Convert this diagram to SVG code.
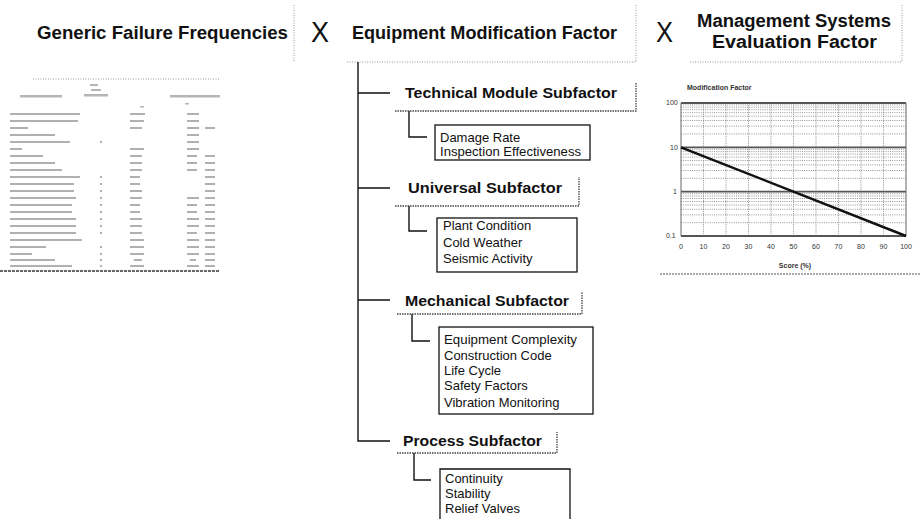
<svg xmlns="http://www.w3.org/2000/svg" width="920" height="519" viewBox="0 0 920 519">
<style>
.h{font-family:"Liberation Sans",Arial,sans-serif;font-weight:bold;font-size:18px;fill:#111}
.x{font-family:"Liberation Sans",Arial,sans-serif;font-size:29px;fill:#111}
.s{font-family:"Liberation Sans",Arial,sans-serif;font-weight:bold;font-size:14px;fill:#111}
.l{font-family:"Liberation Sans",Arial,sans-serif;font-size:13px;fill:#111}
.sh{fill:none;stroke:#444;stroke-width:1.3;stroke-dasharray:1.5 1}
.dot{fill:none;stroke:#999;stroke-width:1;stroke-dasharray:1 1.5}
.c{fill:none;stroke:#111;stroke-width:1.4}
.box{fill:#fff;stroke:#111;stroke-width:1.3}
.tb{fill:#b5b5b5}
.ct{font-family:"Liberation Sans",Arial,sans-serif;font-size:7px;fill:#333}
.g{stroke:#888;stroke-width:0.9;stroke-dasharray:1 1.2}
.gd{stroke:#555;stroke-width:1.8}
</style>

<!-- header titles -->
<g id="generic-failure-frequencies">
<text class="h" x="37" y="39" textLength="251" lengthAdjust="spacingAndGlyphs">Generic Failure Frequencies</text>
<path class="dot" d="M294 5V62"/>
</g>
<g id="times1"><text class="x" x="311" y="42" textLength="18" lengthAdjust="spacingAndGlyphs">X</text></g>
<g id="equipment-modification-factor">
<text class="h" x="352" y="39" textLength="265" lengthAdjust="spacingAndGlyphs">Equipment Modification Factor</text>
<path class="dot" d="M636 5V62M347 62H636"/>
</g>
<g id="times2"><text class="x" x="656" y="42" textLength="17" lengthAdjust="spacingAndGlyphs">X</text></g>
<g id="management-systems-evaluation-factor">
<text class="h" x="697" y="27" textLength="194" lengthAdjust="spacingAndGlyphs">Management Systems</text>
<text class="h" x="712" y="48" textLength="165" lengthAdjust="spacingAndGlyphs">Evaluation Factor</text>
<path class="dot" d="M902 5V62M690 62H902"/>
</g>

<!-- connectors -->
<g id="connectors">
<path class="c" d="M358 62V441H390M358 93H390M358 188H390M358 300H390"/>
<path class="c" d="M409 111V137H427M409 206V231H427M412 314V341H430M414 453V480H431"/>
</g>

<!-- subfactors -->
<g id="technical-module-subfactor">
<text class="s" x="405" y="98" textLength="212" lengthAdjust="spacingAndGlyphs">Technical Module Subfactor</text>
<path class="sh" d="M395 111H636V83"/>
</g>
<g id="technical-items">
<rect class="box" x="435" y="125" width="155" height="35"/>
<text class="l" x="440" y="142">Damage Rate</text>
<text class="l" x="440" y="156" textLength="141" lengthAdjust="spacingAndGlyphs">Inspection Effectiveness</text>
</g>

<g id="universal-subfactor">
<text class="s" x="408" y="193" textLength="154" lengthAdjust="spacingAndGlyphs">Universal Subfactor</text>
<path class="sh" d="M395 206H579V177"/>
</g>
<g id="universal-items">
<rect class="box" x="437" y="218" width="140" height="54"/>
<text class="l" x="443" y="230">Plant Condition</text>
<text class="l" x="443" y="247">Cold Weather</text>
<text class="l" x="443" y="263">Seismic Activity</text>
</g>

<g id="mechanical-subfactor">
<text class="s" x="405" y="306" textLength="164" lengthAdjust="spacingAndGlyphs">Mechanical Subfactor</text>
<path class="sh" d="M397 314H582V292"/>
</g>
<g id="mechanical-items">
<rect class="box" x="439" y="327" width="154" height="87"/>
<text class="l" x="444" y="344" textLength="133" lengthAdjust="spacingAndGlyphs">Equipment Complexity</text>
<text class="l" x="444" y="360">Construction Code</text>
<text class="l" x="444" y="375">Life Cycle</text>
<text class="l" x="444" y="390">Safety Factors</text>
<text class="l" x="444" y="407">Vibration Monitoring</text>
</g>

<g id="process-subfactor">
<text class="s" x="403" y="446" textLength="139" lengthAdjust="spacingAndGlyphs">Process Subfactor</text>
<path class="sh" d="M397 453H557V432"/>
</g>
<g id="process-items">
<path class="box" d="M440 520V469H570V520"/>
<text class="l" x="445" y="483">Continuity</text>
<text class="l" x="445" y="498">Stability</text>
<text class="l" x="445" y="513">Relief Valves</text>
</g>

<!-- table (illegible scan) -->
<g id="failure-table">
<path class="dot" d="M33 79H220"/>
<rect class="tb" x="90" y="84" width="8" height="2"/>
<rect class="tb" x="91" y="89" width="10" height="2"/>
<rect class="tb" x="84" y="94" width="24" height="2.5"/>
<rect class="tb" x="20" y="95" width="42" height="2.5"/>
<rect class="tb" x="170" y="95" width="50" height="2.5"/>
<rect class="tb" x="140" y="106" width="4" height="1.5"/>
<rect class="tb" x="185" y="103" width="4" height="1.5"/>
<g id="rows" fill="#b0b0b0">
<rect x="10" y="113" width="70" height="2"/><rect x="130" y="113" width="15" height="2"/><rect x="187" y="113" width="12" height="2"/>
<rect x="10" y="120" width="68" height="2"/><rect x="130" y="120" width="14" height="2"/><rect x="187" y="120" width="12" height="2"/>
<rect x="10" y="127" width="18" height="2"/><rect x="130" y="127" width="12" height="2"/><rect x="187" y="127" width="12" height="2"/><rect x="205" y="127" width="10" height="2"/>
<rect x="10" y="134" width="45" height="2"/><rect x="187" y="134" width="12" height="2"/>
<rect x="10" y="141" width="60" height="2"/><rect x="100" y="141" width="2" height="2"/><rect x="187" y="141" width="12" height="2"/>
<rect x="10" y="148" width="12" height="2"/><rect x="130" y="148" width="14" height="2"/><rect x="187" y="148" width="12" height="2"/>
<rect x="10" y="155" width="33" height="2"/><rect x="130" y="155" width="12" height="2"/><rect x="187" y="155" width="10" height="2"/><rect x="205" y="155" width="10" height="2"/>
<rect x="10" y="162" width="45" height="2"/><rect x="130" y="162" width="12" height="2"/><rect x="187" y="162" width="10" height="2"/><rect x="205" y="162" width="10" height="2"/>
<rect x="10" y="169" width="52" height="2"/><rect x="130" y="169" width="12" height="2"/><rect x="187" y="169" width="10" height="2"/><rect x="205" y="169" width="10" height="2"/>
<rect x="10" y="176" width="70" height="2"/><rect x="100" y="176" width="2" height="2"/><rect x="130" y="176" width="10" height="2"/><rect x="205" y="176" width="10" height="2"/>
<rect x="10" y="183" width="64" height="2"/><rect x="100" y="183" width="2" height="2"/><rect x="130" y="183" width="10" height="2"/><rect x="205" y="183" width="10" height="2"/>
<rect x="10" y="190" width="64" height="2"/><rect x="100" y="190" width="2" height="2"/><rect x="130" y="190" width="12" height="2"/><rect x="205" y="190" width="10" height="2"/>
<rect x="10" y="197" width="66" height="2"/><rect x="100" y="197" width="2" height="2"/><rect x="130" y="197" width="12" height="2"/><rect x="187" y="197" width="12" height="2"/><rect x="205" y="197" width="10" height="2"/>
<rect x="10" y="204" width="62" height="2"/><rect x="100" y="204" width="2" height="2"/><rect x="130" y="204" width="10" height="2"/><rect x="187" y="204" width="10" height="2"/><rect x="205" y="204" width="10" height="2"/>
<rect x="10" y="211" width="62" height="2"/><rect x="100" y="211" width="2" height="2"/><rect x="130" y="211" width="10" height="2"/><rect x="187" y="211" width="10" height="2"/><rect x="205" y="211" width="10" height="2"/>
<rect x="10" y="218" width="66" height="2"/><rect x="100" y="218" width="2" height="2"/><rect x="130" y="218" width="12" height="2"/><rect x="187" y="218" width="12" height="2"/><rect x="205" y="218" width="10" height="2"/>
<rect x="10" y="225" width="66" height="2"/><rect x="100" y="225" width="2" height="2"/><rect x="130" y="225" width="12" height="2"/><rect x="187" y="225" width="12" height="2"/><rect x="205" y="225" width="10" height="2"/>
<rect x="10" y="232" width="66" height="2"/><rect x="100" y="232" width="2" height="2"/><rect x="130" y="232" width="12" height="2"/><rect x="187" y="232" width="10" height="2"/><rect x="205" y="232" width="10" height="2"/>
<rect x="10" y="239" width="72" height="2"/><rect x="130" y="239" width="14" height="2"/><rect x="187" y="239" width="12" height="2"/><rect x="205" y="239" width="10" height="2"/>
<rect x="10" y="246" width="36" height="2"/><rect x="100" y="246" width="2" height="2"/><rect x="130" y="246" width="14" height="2"/><rect x="187" y="246" width="12" height="2"/><rect x="205" y="246" width="10" height="2"/>
<rect x="10" y="253" width="22" height="2"/><rect x="100" y="253" width="2" height="2"/><rect x="130" y="253" width="14" height="2"/><rect x="187" y="253" width="12" height="2"/><rect x="205" y="253" width="10" height="2"/>
<rect x="10" y="259" width="45" height="2"/><rect x="100" y="259" width="2" height="2"/><rect x="134" y="259" width="8" height="2"/><rect x="190" y="259" width="6" height="2"/><rect x="205" y="259" width="10" height="2"/>
<rect x="10" y="265" width="62" height="2"/><rect x="100" y="265" width="2" height="2"/><rect x="130" y="265" width="14" height="2"/><rect x="187" y="265" width="12" height="2"/><rect x="205" y="265" width="10" height="2"/>
</g>
<path d="M0 271H220" stroke="#333" stroke-width="1.5" stroke-dasharray="3 1"/>
</g>

<!-- chart (scan) -->
<g id="modification-factor-chart">
<text class="ct" x="687" y="90" font-weight="bold">Modification Factor</text>
<g class="g">
<path d="M703.5 103V236M726 103V236M748.5 103V236M771 103V236M793.5 103V236M816 103V236M838.5 103V236M861 103V236M883.5 103V236"/>
<path d="M681 133.9H906M681 126.1H906M681 120.5H906M681 116.2H906M681 112.7H906M681 109.7H906M681 107.2H906M681 104.9H906"/>
<path d="M681 178.3H906M681 170.5H906M681 164.9H906M681 160.6H906M681 157.1H906M681 154.1H906M681 151.6H906M681 149.3H906"/>
<path d="M681 222.7H906M681 214.9H906M681 209.3H906M681 205H906M681 201.5H906M681 198.5H906M681 196H906M681 193.7H906"/>
</g>
<path class="gd" d="M681 103H906M681 147.3H906M681 191.7H906M681 236H906"/>
<path d="M681 103V236M906 103V236" stroke="#666" stroke-width="1"/>
<path d="M681 147.3L906 236" stroke="#111" stroke-width="2.5"/>
<text class="ct" x="666" y="105">100</text>
<text class="ct" x="670" y="150">10</text>
<text class="ct" x="673" y="194">1</text>
<text class="ct" x="666" y="238">0.1</text>
<g class="ct" text-anchor="middle">
<text x="681" y="249">0</text><text x="703.5" y="249">10</text><text x="726" y="249">20</text><text x="748.5" y="249">30</text><text x="771" y="249">40</text><text x="793.5" y="249">50</text><text x="816" y="249">60</text><text x="838.5" y="249">70</text><text x="861" y="249">80</text><text x="883.5" y="249">90</text><text x="906" y="249">100</text>
<text x="795" y="268" font-weight="bold">Score (%)</text>
</g>
<path d="M660 274H920" stroke="#555" stroke-width="1" stroke-dasharray="2 1"/>
</g>
</svg>
